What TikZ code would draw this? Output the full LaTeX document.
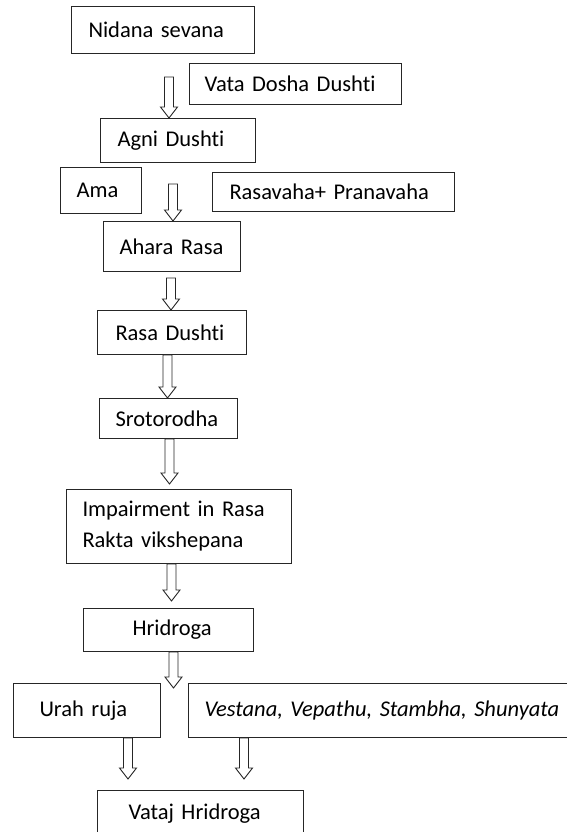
\documentclass[tikz,border=0pt]{standalone}
\usepackage{fontspec}
\setmainfont{Carlito}[RawFeature={-liga;-clig}]
\usetikzlibrary{calc}

\tikzset{
  box/.style={draw=black!85, line width=1pt, anchor=north west, align=left,
    inner ysep=0pt, font=\fontsize{22.5}{31}\selectfont},
  hollow/.style={draw=black!85, line width=.9pt, line join=miter,
    to path={let \p1=(\tikztostart), \p2=(\tikztotarget) in
      (\x1-4.5pt,\y1) -- (\x1-4.5pt,\y2+11pt) -- (\x1-8.5pt,\y2+11pt) -- (\x1,\y2)
      -- (\x1+8.5pt,\y2+11pt) -- (\x1+4.5pt,\y2+11pt) -- (\x1+4.5pt,\y1) -- cycle}}
}

\begin{document}
\begin{tikzpicture}[x=1pt, y=-1pt]
    \useasboundingbox (0,0) rectangle (567,832);
    \clip (0,0) rectangle (567,832);

    \node[box, text width=149pt, inner xsep=17pt, minimum height=47pt] (nidana) at (71,6) {Nidana sevana};
    \node[box, text width=182pt, inner xsep=15pt, minimum height=41pt] (vata) at (189,63) {Vata Dosha Dushti};
    \node[box, text width=121pt, inner xsep=17pt, minimum height=44pt] (agni) at (100,118) {Agni Dushti};
    \node[box, text width=49pt, inner xsep=16pt, minimum height=46pt] (ama) at (60,167) {Ama};
    \node[box, text width=208pt, inner xsep=17pt, minimum height=39pt] (rasavaha) at (212,172) {Rasavaha+ Pranavaha};
    \node[box, text width=105pt, inner xsep=16pt, minimum height=50pt] (ahara) at (103,221) {Ahara Rasa};
    \node[box, text width=113pt, inner xsep=18pt, minimum height=44pt] (rasadushti) at (97,310) {Rasa Dushti};
    \node[box, text width=106pt, inner xsep=16pt, minimum height=40pt] (sroto) at (99,398) {Srotorodha};
    \node[box, text width=193pt, inner xsep=16pt, minimum height=74pt] (impair) at (66,489) {Impairment in Rasa\\Rakta vikshepana};
    \node[box, text width=72pt, inner xsep=49pt, minimum height=43pt] (hridroga) at (83,608) {Hridroga};
    \node[box, text width=95pt, inner xsep=26pt, minimum height=54pt] (urah) at (13,683) {Urah ruja};
    \node[box, text width=370pt, inner xsep=16pt, minimum height=54pt] (vestana) at (188,683) {\itshape Vestana, Vepathu, Stambha, Shunyata};
    \node[box, text width=144pt, inner xsep=31pt, minimum height=46pt] (vataj) at (97,790) {Vataj Hridroga};

    \coordinate (s1) at (169,77);
    \coordinate (s2) at (173,184);
    \coordinate (s3) at (171,278);
    \coordinate (t7) at (173,688);

    \draw[hollow] (s1) to (agni.north);
    \draw[hollow] (s2) to (ahara.north);
    \draw[hollow] (s3) to (rasadushti.north);
    \draw[hollow] ([xshift=-4.5pt]rasadushti.south) to (sroto.north);
    \draw[hollow] ([xshift=1pt]sroto.south) to ([yshift=5pt]impair.north);
    \draw[hollow] ([xshift=-7.5pt]impair.south) to ([yshift=7pt]hridroga.north);
    \draw[hollow] ([xshift=5pt]hridroga.south) to (t7);
    \draw[hollow] ([xshift=-33pt]urah.south east) to ([yshift=11pt]vataj.north);
    \draw[hollow] ([xshift=56pt]vestana.south west) to ([yshift=11pt]vataj.north);

  \end{tikzpicture}
\end{document}
